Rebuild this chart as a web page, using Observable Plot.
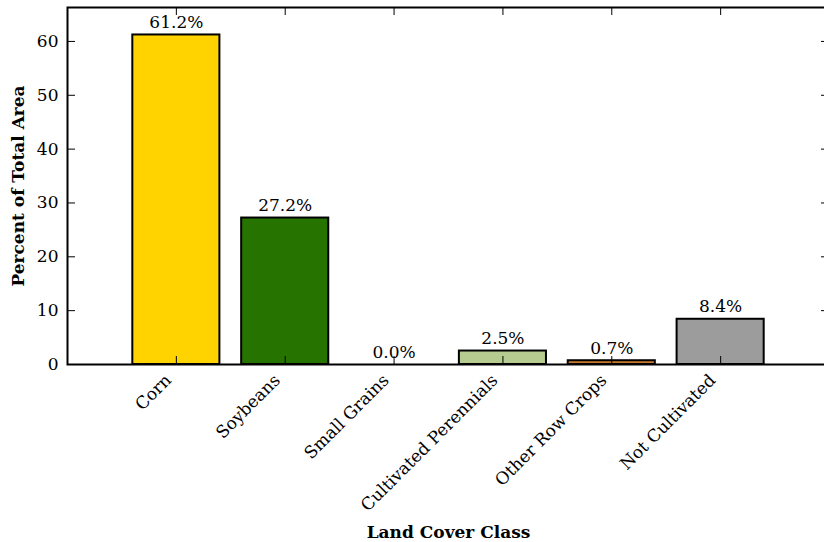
<!DOCTYPE html>
<html>
<head>
<meta charset="utf-8">
<script src="https://cdn.jsdelivr.net/npm/d3@7"></script>
<script src="https://cdn.jsdelivr.net/npm/@observablehq/plot@0.6"></script>
<style>
  html, body { margin: 0; padding: 0; overflow: hidden; background: #fff; width: 824px; height: 542px; }
  #chart svg { display: block; max-width: none !important; height: 542px !important; }
</style>
</head>
<body>
<div id="chart"></div>
<script>
const categories = ["Corn", "Soybeans", "Small Grains", "Cultivated Perennials", "Other Row Crops", "Not Cultivated"];
const percents = [61.2, 27.2, 0.0, 2.5, 0.7, 8.4];
const colors = ["#FFD300", "#267300", "#D8B56B", "#B6CB8F", "#C8782A", "#9C9C9C"];
const yTicks = [0, 10, 20, 30, 40, 50, 60];
const xLabel = "Land Cover Class";
const yLabel = "Percent of Total Area";

const data = categories.map((c, i) => ({cat: c, value: percents[i], color: colors[i]}));

const font = "'DejaVu Serif', serif";
const W = 840, H = 542;
const mL = 67, mR = 11, mT = 7, mB = 178;
const frameW = W - mL - mR;
const frameH = H - mT - mB;
const tick = 8;

const chart = Plot.plot({
  width: W,
  height: H,
  marginLeft: mL,
  marginRight: mR,
  marginTop: mT,
  marginBottom: mB,
  style: {fontFamily: font, fontSize: "17px", color: "#000", background: "#fff"},
  x: {type: "band", domain: categories, paddingInner: 0.2, paddingOuter: 0.6, round: false, axis: null},
  y: {domain: [0, 66.3], axis: null},
  color: {type: "identity"},
  marks: [
    Plot.barY(data, {x: "cat", y: "value", fill: "color", stroke: "#000", strokeWidth: 2}),
    Plot.text(data, {x: "cat", y: "value", text: d => d.value.toFixed(1) + "%", lineAnchor: "bottom", dy: -7, fontSize: 17, fill: "#000"}),
    // inward ticks: left and right
    Plot.ruleY(yTicks, {insetRight: frameW - tick, stroke: "#000", strokeWidth: 1}),
    Plot.ruleY(yTicks, {insetLeft: frameW - tick, stroke: "#000", strokeWidth: 1}),
    // inward ticks: bottom and top
    Plot.ruleX(categories, {insetTop: frameH - tick, stroke: "#000", strokeWidth: 1}),
    Plot.ruleX(categories, {insetBottom: frameH - tick, stroke: "#000", strokeWidth: 1}),
    Plot.frame({stroke: "#000", strokeWidth: 2}),
    // y tick labels
    Plot.text(yTicks, {y: d => d, frameAnchor: "left", textAnchor: "end", dx: -9, text: d => String(d), fontSize: 17}),
    // x tick labels, rotated
    Plot.text(categories, {x: d => d, frameAnchor: "bottom", textAnchor: "end", lineAnchor: "middle", rotate: -45, dx: -8, dy: 13, fontSize: 17}),
    // axis titles
    Plot.text([yLabel], {frameAnchor: "left", textAnchor: "middle", rotate: -90, dx: -49, fontWeight: "bold", fontSize: 17}),
    Plot.text([xLabel], {frameAnchor: "bottom", dy: 173, fontWeight: "bold", fontSize: 17})
  ]
});
document.getElementById("chart").appendChild(chart);
</script>
</body>
</html>
